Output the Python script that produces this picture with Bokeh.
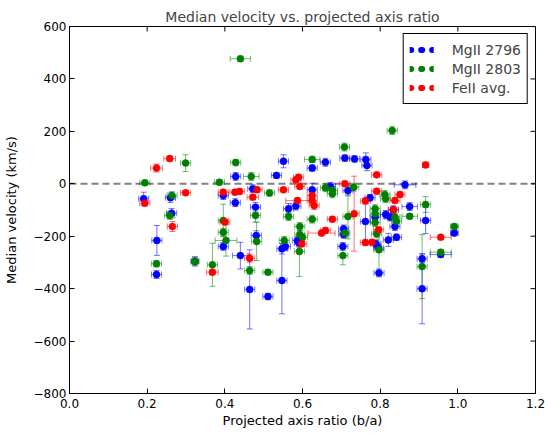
from bokeh.plotting import figure
from bokeh.models import (ColumnDataSource, Whisker, TeeHead, Span, FixedTicker,
                          Range1d, Legend, LegendItem)
from bokeh.embed import file_html
from bokeh.resources import INLINE

# ---------------- data ----------------
x_ticks = [0.0, 0.2, 0.4, 0.6, 0.8, 1.0, 1.2]
y_ticks = [-800, -600, -400, -200, 0, 200, 400, 600]

# MgII 2796
b_x = [0.191, 0.260, 0.263, 0.225, 0.224, 0.323, 0.396, 0.427,
       0.428, 0.472, 0.479, 0.396, 0.440, 0.481, 0.464, 0.511,
       0.551, 0.533, 0.625, 0.659, 0.709, 0.734, 0.763, 0.766,
       0.672, 0.717, 0.625, 0.583, 0.564, 0.762, 0.774, 0.787,
       0.814, 0.825, 0.834, 0.706, 0.706, 0.789, 0.821, 0.842,
       0.587, 0.592, 0.547, 0.556, 0.704, 0.796, 0.547, 0.797,
       0.838, 0.864, 0.876, 0.917, 0.991, 0.956, 0.908, 0.908]
b_y = [-57, -53, -112, -216, -346, -296, -45, -72,
       28, -19, -89, -239, -274, -197, -403, -430,
       86, 32, 60, 82, 98, 95, 93, 70,
       -10, -26, -23, -85, -95, -144, -53, -127,
       -117, -127, -99, -172, -193, -229, -214, -204,
       -216, -227, -248, -239, -239, -245, -369, -340,
       -163, -4, -87, -140, -188, -270, -286, -400]
b_xerr = [0.013, 0.013, 0.013, 0.013, 0.013, 0.010, 0.013, 0.013,
          0.013, 0.013, 0.013, 0.013, 0.020, 0.013, 0.013, 0.013,
          0.013, 0.013, 0.013, 0.013, 0.013, 0.013, 0.013, 0.013,
          0.013, 0.013, 0.013, 0.013, 0.013, 0.013, 0.013, 0.013,
          0.013, 0.013, 0.013, 0.013, 0.013, 0.013, 0.013, 0.013,
          0.013, 0.013, 0.013, 0.013, 0.013, 0.013, 0.013, 0.013,
          0.013, 0.028, 0.020, 0.013, 0.010, 0.027, 0.013, 0.013]
b_yerr = [25, 18, 18, 57, 15, 18, 15, 15,
          15, 15, 18, 15, 51, 18, 151, 12,
          25, 10, 12, 15, 12, 12, 25, 20,
          15, 20, 25, 15, 20, 90, 12, 15,
          15, 15, 15, 15, 15, 15, 25, 12,
          15, 15, 20, 15, 15, 15, 127, 15,
          15, 15, 15, 50, 10, 10, 15, 134]

# MgII 2803
g_x = [0.194, 0.299, 0.428, 0.468, 0.386, 0.264, 0.258, 0.515,
       0.479, 0.396, 0.396, 0.403, 0.368, 0.482, 0.224, 0.323,
       0.464, 0.511, 0.708, 0.625, 0.659, 0.677, 0.677, 0.732,
       0.564, 0.625, 0.717, 0.812, 0.814, 0.787, 0.787, 0.787,
       0.838, 0.842, 0.593, 0.709, 0.791, 0.593, 0.600, 0.553,
       0.592, 0.704, 0.797, 0.831, 0.440, 0.876, 0.917, 0.991,
       0.956, 0.908]
g_y = [4, 79, 81, 28, 6, -45, -121, -35,
       -121, -140, -185, -216, -309, -220, -305, -296,
       -331, -337, 140, 93, -15, -25, -38, -13,
       -125, -135, -125, -41, -57, -95, -114, -148,
       -127, -143, -163, -188, -191, -193, -204, -216,
       -258, -274, -252, 203, 477, -124, -79, -163,
       -261, -316]
g_xerr = [0.013, 0.013, 0.013, 0.020, 0.013, 0.013, 0.013, 0.013,
          0.013, 0.013, 0.013, 0.028, 0.013, 0.013, 0.013, 0.010,
          0.013, 0.013, 0.013, 0.020, 0.013, 0.013, 0.013, 0.013,
          0.013, 0.013, 0.013, 0.013, 0.013, 0.013, 0.013, 0.013,
          0.013, 0.013, 0.013, 0.013, 0.013, 0.013, 0.013, 0.013,
          0.013, 0.013, 0.013, 0.013, 0.026, 0.020, 0.013, 0.010,
          0.027, 0.013]
g_yerr = [10, 32, 12, 15, 10, 15, 15, 12,
          25, 62, 15, 60, 82, 73, 12, 15,
          15, 10, 15, 12, 15, 15, 15, 15,
          15, 15, 85, 15, 15, 15, 15, 15,
          15, 15, 15, 15, 15, 15, 15, 15,
          96, 35, 85, 15, 10, 10, 30, 10,
          10, 122]

# FeII avg.
r_x = [0.258, 0.224, 0.194, 0.299, 0.396, 0.426, 0.438, 0.483,
       0.472, 0.265, 0.400, 0.368, 0.464, 0.590, 0.583, 0.791,
       0.593, 0.551, 0.709, 0.733, 0.625, 0.625, 0.630, 0.587,
       0.677, 0.762, 0.791, 0.838, 0.851, 0.659, 0.649, 0.796,
       0.762, 0.779, 0.598, 0.917, 0.834, 0.956]
r_y = [96, 60, -74, -34, -32, -32, -29, -23,
       -51, -163, -146, -337, -284, 25, 15, 34,
       -10, -23, 0, -114, -45, -64, -83, -64,
       -135, -66, -28, -64, -41, -178, -188, -175,
       -224, -223, -229, 72, -99, -204]
r_xerr = [0.015, 0.015, 0.013, 0.013, 0.013, 0.013, 0.013, 0.013,
          0.015, 0.013, 0.013, 0.015, 0.013, 0.013, 0.013, 0.013,
          0.013, 0.013, 0.013, 0.013, 0.013, 0.013, 0.013, 0.030,
          0.013, 0.013, 0.013, 0.013, 0.013, 0.013, 0.035, 0.013,
          0.013, 0.013, 0.013, 0.008, 0.013, 0.027]
r_yerr = [10, 15, 10, 8, 10, 10, 10, 10,
          10, 19, 10, 10, 15, 10, 10, 8,
          10, 8, 10, 143, 15, 15, 15, 10,
          10, 10, 10, 10, 10, 10, 10, 10,
          10, 10, 10, 10, 10, 8]

series = [
    ("MgII 2796", "#0000ff", b_x, b_y, b_xerr, b_yerr),
    ("MgII 2803", "#008000", g_x, g_y, g_xerr, g_yerr),
    ("FeII avg.", "#ff0000", r_x, r_y, r_xerr, r_yerr),
]

FONT = "DejaVu Sans"
X0, X1 = x_ticks[0], x_ticks[-1]
Y0, Y1 = y_ticks[0], y_ticks[-1]

p = figure(width=545, height=434, output_backend="svg", toolbar_location=None,
           x_range=Range1d(X0, X1), y_range=Range1d(Y0, Y1),
           min_border_left=65, min_border_top=26, min_border_right=10, min_border_bottom=41)
p.title.text = "Median velocity vs. projected axis ratio"
p.title.text_font = FONT
p.title.text_font_size = "14px"
p.title.text_font_style = "normal"
p.title.align = "center"
p.title.standoff = 3
p.grid.visible = False
p.outline_line_color = "black"
p.outline_line_width = 1
p.background_fill_color = "white"
p.border_fill_color = "white"

for ax in (p.xaxis[0], p.yaxis[0]):
    ax.major_tick_in = 5
    ax.major_tick_out = 0
    ax.minor_tick_line_color = None
    ax.axis_line_color = "black"
    ax.major_label_text_font = FONT
    ax.major_label_text_font_size = "12px"
    ax.major_label_text_color = "black"
    ax.axis_label_text_font = FONT
    ax.axis_label_text_font_size = "13px"
    ax.axis_label_text_font_style = "normal"
    ax.axis_label_text_color = "black"

p.xaxis.ticker = FixedTicker(ticks=x_ticks)
p.xaxis.major_label_overrides = {t: "%.1f" % t for t in x_ticks}
p.xaxis.axis_label = "Projected axis ratio (b/a)"
p.xaxis.major_label_standoff = 5
p.xaxis.axis_label_standoff = 2
p.yaxis.ticker = FixedTicker(ticks=y_ticks)
p.yaxis.major_label_overrides = {t: ("%d" % t).replace("-", "\u2212") for t in y_ticks}
p.yaxis.axis_label = "Median velocity (km/s)"
p.yaxis.major_label_standoff = 3
p.yaxis.axis_label_standoff = 12

# inward ticks on the top and right edges (matplotlib classic style)
tick_dx = (X1 - X0) * 5 / 470.0
tick_dy = (Y1 - Y0) * 5 / 367.0
p.segment(x0=x_ticks, y0=[Y1] * len(x_ticks), x1=x_ticks, y1=[Y1 - tick_dy] * len(x_ticks),
          line_color="black", line_width=1)
p.segment(x0=[X1] * len(y_ticks), y0=y_ticks, x1=[X1 - tick_dx] * len(y_ticks), y1=y_ticks,
          line_color="black", line_width=1)

p.add_layout(Span(location=0, dimension="width", line_color="#808080",
                  line_dash="7 4", line_width=2, level="underlay"))

items = []
for label, color, xs, ys, xe, ye in series:
    src = ColumnDataSource(dict(
        x=xs, y=ys,
        xl=[a - b for a, b in zip(xs, xe)], xu=[a + b for a, b in zip(xs, xe)],
        yl=[a - b for a, b in zip(ys, ye)], yu=[a + b for a, b in zip(ys, ye)],
    ))
    for dim, base, lo, up in (("height", "x", "yl", "yu"), ("width", "y", "xl", "xu")):
        w = Whisker(source=src, base=base, lower=lo, upper=up, dimension=dim,
                    line_color=color, line_alpha=0.55, line_width=1, level="underlay",
                    upper_head=TeeHead(size=6, line_color=color, line_alpha=0.55, line_width=1),
                    lower_head=TeeHead(size=6, line_color=color, line_alpha=0.55, line_width=1))
        p.add_layout(w)
    p.scatter("x", "y", source=src, size=7, fill_color=color, line_color=color,
              line_alpha=0.5, line_width=1)
    dummy = p.line(x=[float("nan")], y=[float("nan")], line_color=color, line_width=6,
                   line_dash="1 10", line_cap="round")
    items.append(LegendItem(label=label, renderers=[dummy]))

legend = Legend(items=items, location="top_right", margin=7, padding=6, spacing=0,
                glyph_width=24, glyph_height=19, label_height=19, label_standoff=18,
                label_text_font=FONT, label_text_font_size="14px",
                border_line_color="black", border_line_width=1, border_line_alpha=1,
                background_fill_color="white", background_fill_alpha=1)
p.add_layout(legend)

open("out.html", "w").write(file_html(p, INLINE))
